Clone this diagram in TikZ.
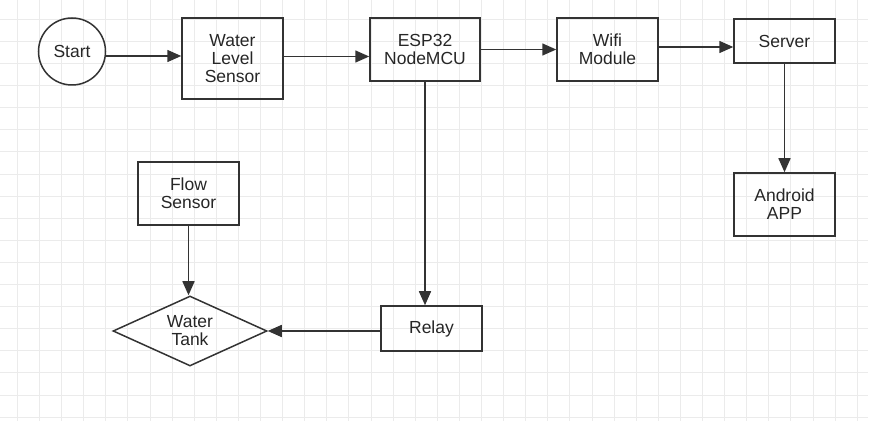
\documentclass[tikz,border=0pt]{standalone}
\usepackage{fontspec}
\setmainfont{Liberation Sans}
\usepackage{tikz}
\usetikzlibrary{shapes.geometric, arrows.meta, positioning, calc}

\begin{document}
\begin{tikzpicture}[x=1pt, y=-1pt,
    gridline/.style={draw=black!8, line width=0.8pt},
    block/.style={draw=black!80, line width=1.5pt, rectangle, inner sep=0pt,
        align=center, text=black!85, font=\fontsize{17.5}{18}\selectfont},
    startnode/.style={block, circle, minimum size=67pt},
    tankshape/.style={block, diamond, aspect=2.2},
    link/.style={draw=black!80, line width=1.5pt, -{Triangle[length=14pt,width=12pt]}}]
\useasboundingbox (0,0) rectangle (892,443);
% grid
\foreach \gx in {0,...,38} {
    \draw[gridline] ({17.3+22.1*\gx},0) -- ++(0,421);
}
\foreach \gy in {0,...,18} {
    \draw[gridline] (0,{19.3+22.1*\gy}) -- ++(868,0);
}
% top row
\node[startnode] (start) at (72,51.5) {Start};
\node[block, minimum width=101pt, minimum height=81pt] (levelsensor) at (232.5,58.5) {Water\\Level\\Sensor};
\node[block, minimum width=110pt, minimum height=63pt] (esp) at (425,49.5) {ESP32\\NodeMCU};
\node[block, minimum width=101pt, minimum height=63pt] (wifi) at (607.5,49.5) {Wifi\\Module};
\node[block, minimum width=101pt, minimum height=44pt] (server) at (784.5,41) {Server};
\node[block, minimum width=101pt, minimum height=63pt] (android) at (784.5,204.5) {Android\\APP};
% lower part
\node[block, minimum width=101pt, minimum height=63pt] (flowsensor) at (188.5,193.5) {Flow\\Sensor};
\node[tankshape, minimum width=154pt, minimum height=70pt] (tank) at (190,331) {Water\\Tank};
\node[block, minimum width=101pt, minimum height=45pt] (relay) at (431.5,328.5) {Relay};
% arrows
\draw[link] (start.east |- 0,56) -- (levelsensor.west |- 0,56);
\draw[link] (levelsensor.east |- 0,56.5) -- (esp.west |- 0,56.5);
\draw[link] (esp) -- (wifi);
\draw[link] (wifi.east |- 0,47) -- (server.west |- 0,47);
\draw[link] (server) -- (android);
\draw[link] (esp.south) -- (esp.south |- relay.north);
\draw[link] (flowsensor.south) -- (flowsensor.south |- tank.north);
\draw[link] (relay.west |- tank.east) -- (tank.east);
\end{tikzpicture}
\end{document}
